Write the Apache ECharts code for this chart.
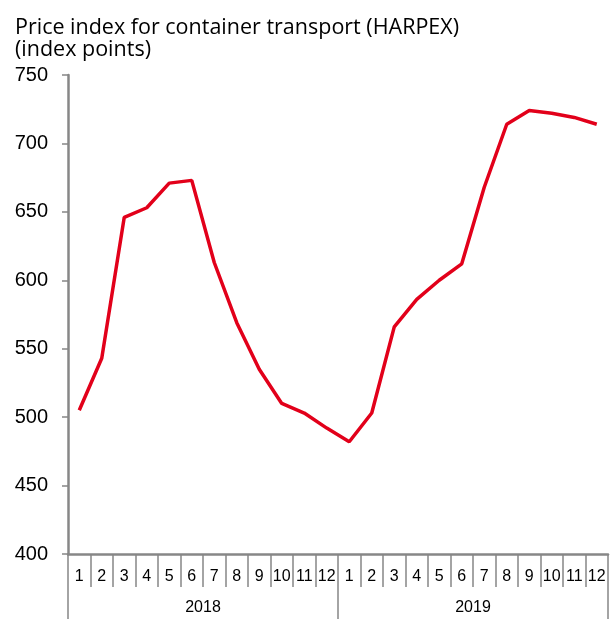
<!DOCTYPE html>
<html>
<head>
<meta charset="utf-8">
<script src="https://cdn.jsdelivr.net/npm/echarts@6/dist/echarts.min.js"></script>
<style>
  html, body { margin: 0; padding: 0; background: #fff; }
  #chart { width: 611px; height: 619px; }
</style>
</head>
<body>
<div id="chart"></div>
<script>
// months per year and the two years
var months = ['1','2','3','4','5','6','7','8','9','10','11','12',
              '1','2','3','4','5','6','7','8','9','10','11','12'];
var years = ['2018', '2019'];
// HARPEX, index points
var harpex = [505, 543, 646, 653, 671, 673, 613, 569, 535, 510, 503, 492,
              482, 503, 566, 586, 600, 612, 668, 714, 724, 722, 719, 714];
var yTicks = { min: 400, max: 750, step: 50 };

var axisGray = '#878787';
var myChart = echarts.init(document.getElementById('chart'));
myChart.setOption({
  animation: false,
  title: {
    text: 'Price index for container transport (HARPEX)\n(index points)',
    left: 10,
    top: 12,
    textStyle: {
      fontFamily: 'Open Sans',
      fontWeight: 'normal',
      fontSize: 21.5,
      lineHeight: 22,
      color: '#000'
    }
  },
  grid: { left: 68, right: 3, top: 75, bottom: 65 },
  xAxis: [{
    type: 'category',
    data: months,
    boundaryGap: true,
    axisLine: { lineStyle: { color: axisGray, width: 2.5 } },
    axisTick: { show: true, interval: 0, length: 33, lineStyle: { color: axisGray, width: 1.5 } },
    axisLabel: { interval: 0, margin: 15, fontFamily: 'Liberation Sans', fontSize: 16, color: '#000' }
  }, {
    type: 'category',
    data: years,
    position: 'bottom',
    boundaryGap: true,
    axisLine: { show: false },
    axisTick: { show: true, interval: 0, length: 70, lineStyle: { color: axisGray, width: 1.5 } },
    axisLabel: { interval: 0, margin: 46, fontFamily: 'Liberation Sans', fontSize: 16, color: '#000' }
  }],
  yAxis: {
    type: 'value',
    min: yTicks.min,
    max: yTicks.max,
    interval: yTicks.step,
    splitLine: { show: false },
    axisLine: { show: true, lineStyle: { color: axisGray, width: 2.5 } },
    axisTick: { show: true, length: 6, lineStyle: { color: axisGray, width: 1.5 } },
    axisLabel: { margin: 20, fontFamily: 'Liberation Sans', fontSize: 20, color: '#000' }
  },
  series: [{
    type: 'line',
    xAxisIndex: 0,
    data: harpex,
    symbol: 'none',
    smooth: false,
    lineStyle: { color: '#e2001a', width: 3.5 }
  }]
});
</script>
</body>
</html>
